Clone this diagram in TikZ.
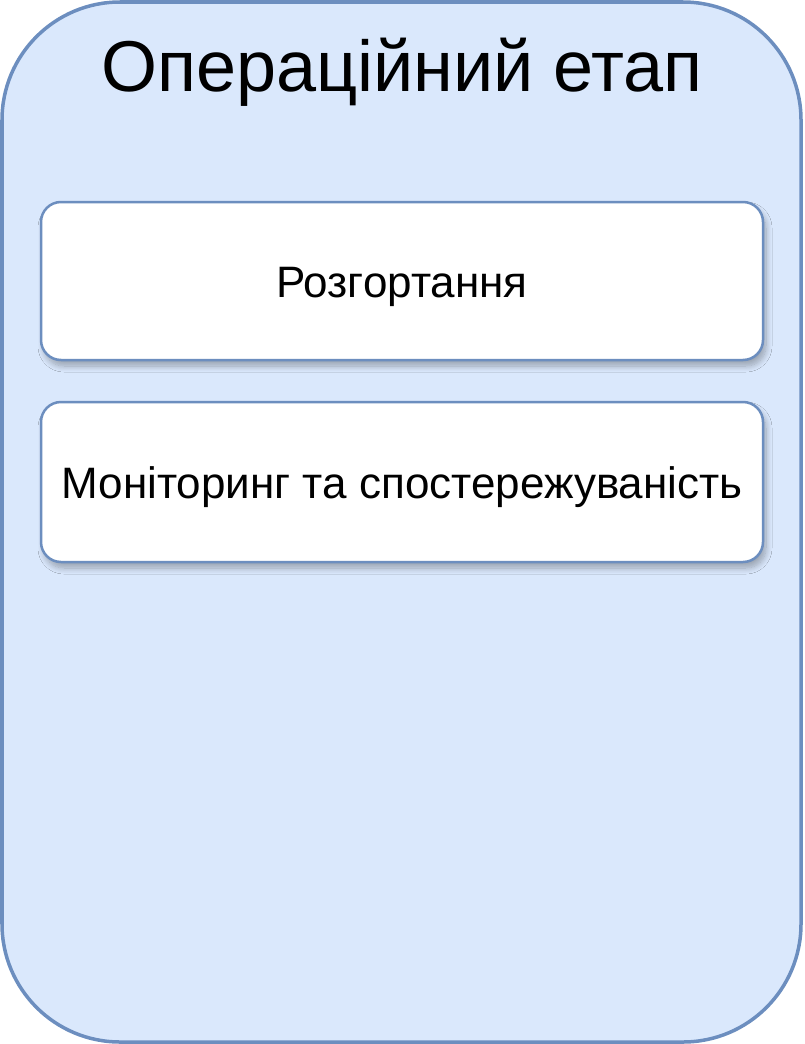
\documentclass[tikz,border=0pt]{standalone}
\usepackage{fontspec}
\setmainfont{Liberation Sans}
\usetikzlibrary{shadows.blur}
\definecolor{boxfill}{HTML}{DAE8FC}
\definecolor{boxline}{HTML}{6C8EBF}
\begin{document}
\begin{tikzpicture}[x=1pt,y=-1pt,
  outerbox/.style={draw=boxline,fill=boxfill,line width=3.5pt,rounded corners=118pt},
  itembox/.style={draw=boxline,fill=white,line width=2.5pt,rounded corners=20pt,
    blur shadow={shadow xshift=3pt,shadow yshift=-6pt,shadow blur radius=6pt,shadow blur steps=10,shadow opacity=30}},
  itemtext/.style={font=\fontsize{44}{50}\selectfont,inner sep=0pt,anchor=base}]
\useasboundingbox (0,0) rectangle (804,1044);
\draw[outerbox] (2,2) rectangle (801,1042);
\node[font=\fontsize{72}{80}\selectfont,inner sep=0pt,anchor=base] (title) at (402,91) {Операційний етап};
\draw[itembox] (41,202) rectangle (763,360);
\node[itemtext] (deploy) at (402,297) {Розгортання};
\draw[itembox] (41,402) rectangle (763,562);
\node[itemtext] (monitor) at (402,498) {Моніторинг та спостережуваність};
\end{tikzpicture}
\end{document}
